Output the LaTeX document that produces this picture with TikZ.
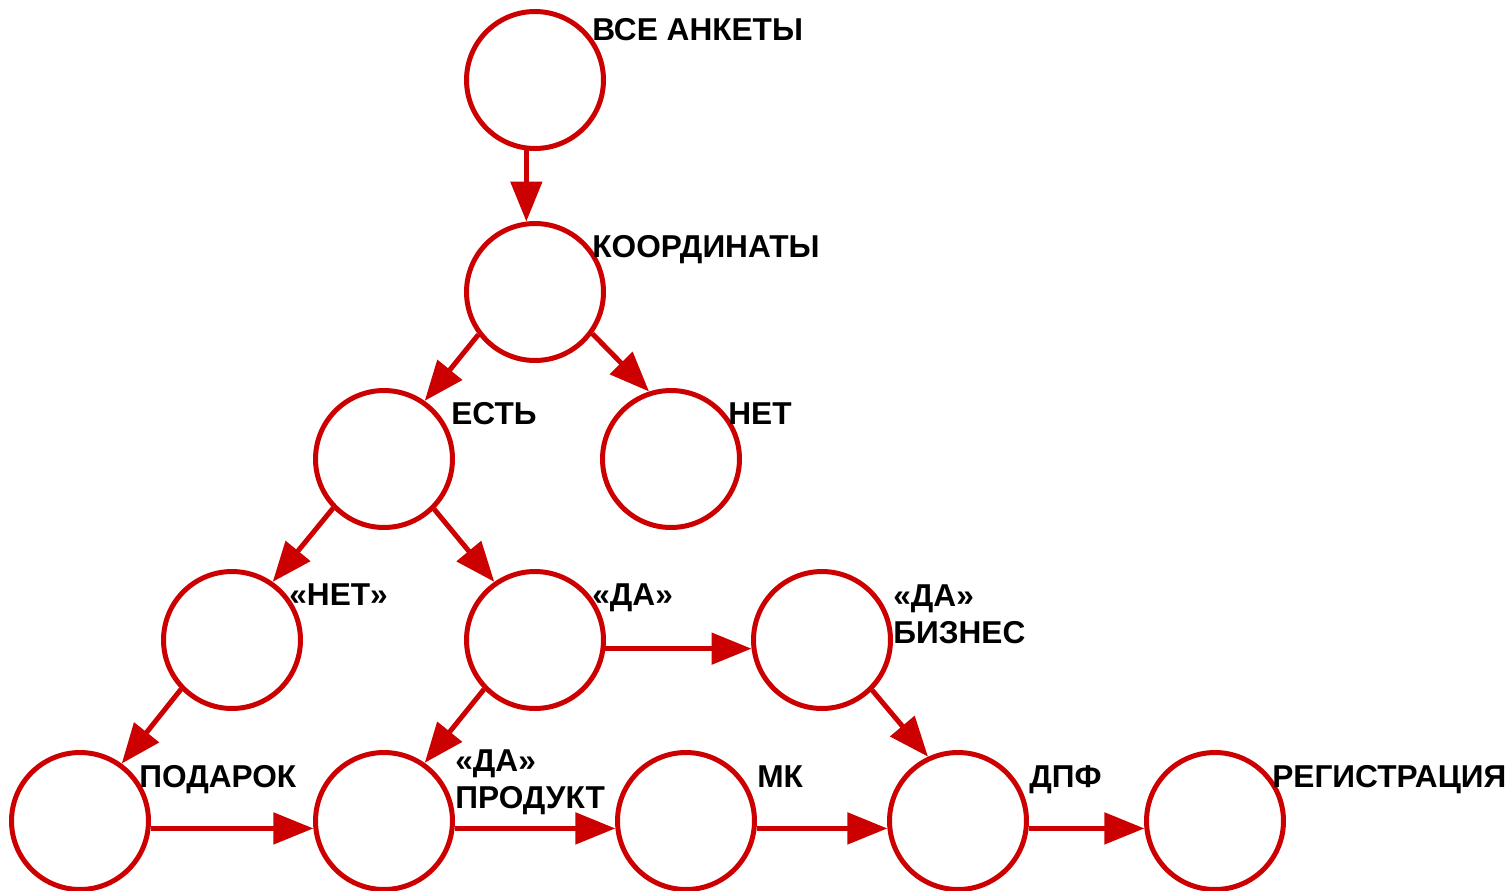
\documentclass[tikz,border=0pt]{standalone}
\usepackage{fontspec}
\setmainfont{Liberation Sans}
\usetikzlibrary{arrows.meta}
\definecolor{brick}{HTML}{CC0000}

\begin{document}
\begin{tikzpicture}[
      x=0.02cm, y=-0.02cm,
      stage/.style={circle, draw=brick, line width=0.1cm, minimum size=2.74cm, inner sep=0pt},
      lbl/.style={anchor=base west, inner sep=0pt, align=left,
                  font=\fontsize{18}{20.5}\selectfont\bfseries},
      arr/.style={-{Triangle[length=0.8cm, width=0.62cm]}, line width=0.1cm, color=brick}
    ]
      \useasboundingbox (0,0) rectangle (1511,890);
      % circles
      \node[stage] (all) at (535,80) {};
      \node[stage] (coord) at (535,292) {};
      \node[stage] (est) at (384,459) {};
      \node[stage] (net) at (671,459) {};
      \node[stage] (no) at (232,640) {};
      \node[stage] (yes) at (535,640) {};
      \node[stage] (biz) at (822,640) {};
      \node[stage] (gift) at (80,821) {};
      \node[stage] (prod) at (384,821) {};
      \node[stage] (mk) at (686,821) {};
      \node[stage] (dpf) at (958,821) {};
      \node[stage] (reg) at (1215,821) {};
      % arrows
      \draw[arr] (all.-97) -- (coord.97);
      \draw[arr] (coord.217) -- (est.55);
      \draw[arr] (coord.-36) -- (net.108);
      \draw[arr] (est.224) -- (no.55);
      \draw[arr] (est.-45) -- (yes.125);
      \draw[arr] (yes.-7) -- (biz.187);
      \draw[arr] (no.224) -- (gift.54);
      \draw[arr] (yes.224) -- (prod.55);
      \draw[arr] (biz.-45) -- (dpf.115);
      \draw[arr] (gift.-6) -- (prod.186);
      \draw[arr] (prod.-6) -- (mk.186);
      \draw[arr] (mk.-6) -- (dpf.186);
      \draw[arr] (dpf.-6) -- (reg.186);
      % labels
      \node[lbl] (l-all) at (592,40) {ВСЕ АНКЕТЫ};
      \node[lbl] (l-coord) at (592,257) {КООРДИНАТЫ};
      \node[lbl] (l-est) at (451,424) {ЕСТЬ};
      \node[lbl] (l-net) at (728,424) {НЕТ};
      \node[lbl] (l-no) at (289,605) {«НЕТ»};
      \node[lbl] (l-yes) at (592,605) {«ДА»};
      \node[lbl] (l-biz) at (893,643) {«ДА»\\БИЗНЕС};
      \node[lbl] (l-gift) at (139,787) {ПОДАРОК};
      \node[lbl] (l-prod) at (455,808) {«ДА»\\ПРОДУКТ};
      \node[lbl] (l-mk) at (757,787) {МК};
      \node[lbl] (l-dpf) at (1029,787) {ДПФ};
      \node[lbl] (l-reg) at (1272,787) {РЕГИСТРАЦИЯ};
    \end{tikzpicture}
\end{document}
